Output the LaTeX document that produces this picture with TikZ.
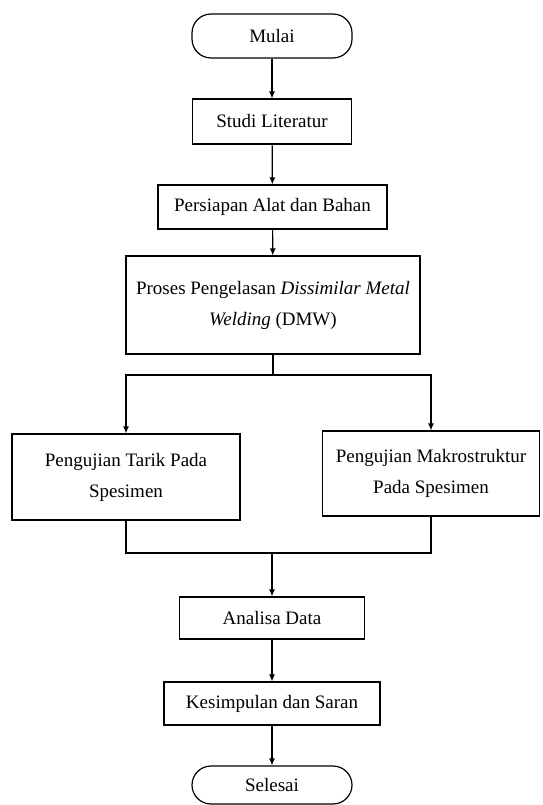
\documentclass[tikz,border=0pt]{standalone}
\usepackage{fontspec}
\setmainfont{Liberation Serif}
\usepackage{tikz}
\usetikzlibrary{arrows.meta}

\tikzset{
    boks/.style={draw, line width=1.2pt, align=center, inner sep=0pt},
    ujung/.style={draw, line width=1.2pt, rounded corners=19pt, align=center, inner sep=0pt},
    panah/.style={line width=1.2pt, -{Latex[length=7pt,width=6pt]}},
    garis/.style={line width=1.2pt}
}

\begin{document}
\begin{tikzpicture}[x=1pt, y=1pt, font=\fontsize{19}{31}\selectfont]
    \useasboundingbox (0,0) rectangle (542,-805);

    \node[ujung, minimum width=160pt, minimum height=44pt] (mulai) at (272,-36) {Mulai};
    \node[boks, minimum width=159pt, minimum height=45pt] (studi) at (272,-121.5) {Studi Literatur};
    \node[boks, minimum width=229pt, minimum height=44pt] (persiapan) at (272.5,-207) {Persiapan Alat dan Bahan};
    \node[boks, minimum width=294pt, minimum height=98pt] (proses) at (273,-305) {
        Proses Pengelasan \textit{Dissimilar Metal}\\
        \textit{Welding} (DMW)
    };
    \node[boks, minimum width=228pt, minimum height=86pt] (tarik) at (126,-477) {Pengujian Tarik Pada\\Spesimen};
    \node[boks, minimum width=217pt, minimum height=85pt] (makro) at (431,-473.5) {Pengujian Makrostruktur\\Pada Spesimen};
    \node[boks, minimum width=185pt, minimum height=42pt] (analisa) at (272,-618) {Analisa Data};
    \node[boks, minimum width=216pt, minimum height=43pt] (kesimpulan) at (272,-703.5) {Kesimpulan dan Saran};
    \node[ujung, minimum width=160pt, minimum height=38pt] (selesai) at (272,-785) {Selesai};

    \coordinate (cabang) at (273,-375);
    \coordinate (gabung) at (272,-553);

    \draw[panah] (mulai) -- (studi);
    \draw[panah] (studi) -- (persiapan);
    \draw[panah] (persiapan) -- (proses);
    \draw[garis] (proses.south) -- (cabang);
    \draw[panah] (cabang) -| (tarik.north);
    \draw[panah] (cabang) -| (makro.north);
    \draw[garis] (tarik.south) |- (gabung) -| (makro.south);
    \draw[panah] (gabung) -- (analisa);
    \draw[panah] (analisa) -- (kesimpulan);
    \draw[panah] (kesimpulan) -- (selesai);
\end{tikzpicture}
\end{document}
